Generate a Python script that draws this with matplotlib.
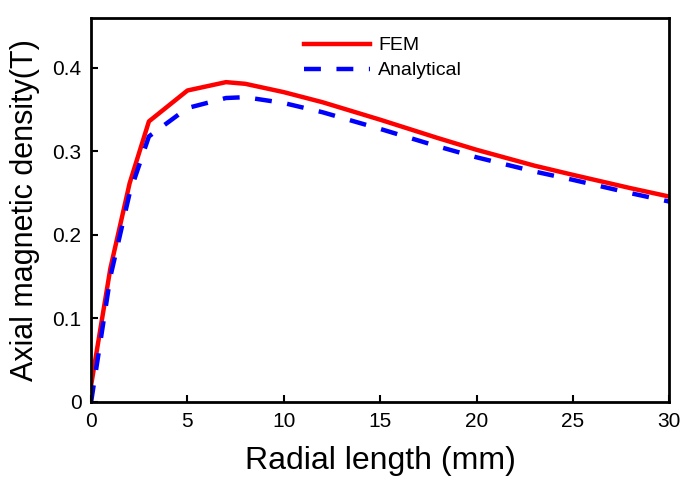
import numpy as np
import matplotlib.pyplot as plt

plt.rcParams['font.family'] = ['Liberation Sans', 'DejaVu Sans']

x = [0, 1, 2, 3, 5, 7, 8, 10, 12, 15, 18, 20, 23, 25, 28, 30]
fem = [0.02, 0.16, 0.262, 0.336, 0.373, 0.383, 0.381, 0.371, 0.359, 0.338, 0.316, 0.302, 0.283, 0.272, 0.256, 0.246]
analytical = [0.0, 0.15, 0.25, 0.318, 0.352, 0.364, 0.365, 0.358, 0.347, 0.327, 0.306, 0.293, 0.276, 0.266, 0.250, 0.240]

fig = plt.figure(figsize=(6.85, 4.82), dpi=100)
ax = fig.add_axes([0.133, 0.166, 0.844, 0.797])
ax.plot(x, fem, '-', color='#ff0000', lw=3.2, label='FEM')
ax.plot(x, analytical, '--', color='#0000ff', lw=3.2, dashes=(3.8, 3.5), label='Analytical')
ax.set_xlim(0, 30)
ax.set_ylim(0, 0.46)
ax.set_xticks([0, 5, 10, 15, 20, 25, 30])
ax.set_yticks([0, 0.1, 0.2, 0.3, 0.4])
ax.set_yticklabels(['0', '0.1', '0.2', '0.3', '0.4'])
ax.tick_params(direction='in', length=5, width=1.5, labelsize=15, pad=7)
for s in ax.spines.values():
    s.set_linewidth(2)
ax.set_xlabel('Radial length (mm)', fontsize=23, labelpad=11)
ax.set_ylabel('Axial magnetic density(T)', fontsize=22, labelpad=9)
ax.legend(loc='upper left', bbox_to_anchor=(0.338, 0.996), frameon=False, fontsize=14,
          handlelength=3.4, handletextpad=0.4, labelspacing=0.38)
fig.savefig('out.png')
